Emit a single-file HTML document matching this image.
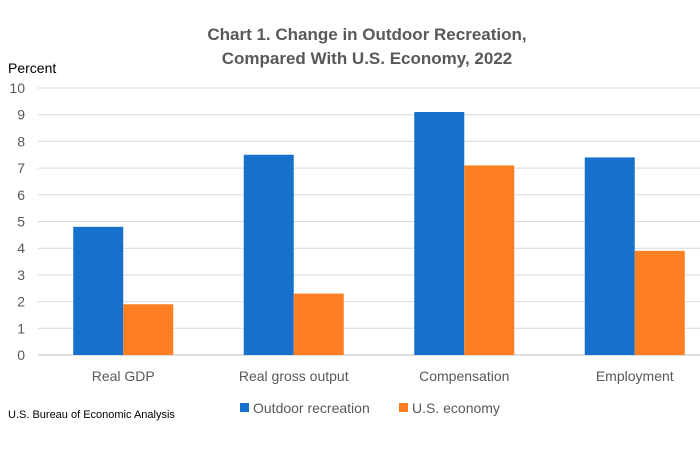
<!DOCTYPE html>
<html><head><meta charset="utf-8"><style>
body{margin:0;background:#fff;width:700px;height:467px;overflow:hidden;font-family:"Liberation Sans",sans-serif}
</style></head><body>
<svg id="chart" width="700" height="467" xmlns="http://www.w3.org/2000/svg">
<text x="367" y="40" text-anchor="middle" font-size="17" font-weight="bold" fill="#595959">Chart 1. Change in Outdoor Recreation,</text>
<text x="367" y="64" text-anchor="middle" font-size="17" font-weight="bold" fill="#595959">Compared With U.S. Economy, 2022</text>
<text x="8" y="73" font-size="14" fill="#000">Percent</text>
<g id="grid"></g><g id="bars"></g><g id="labels"></g>
<text x="8" y="418" font-size="11" fill="#000">U.S. Bureau of Economic Analysis</text>
<rect x="240" y="403" width="9" height="9" fill="#1670cc"/>
<text x="253" y="413" font-size="14" fill="#595959">Outdoor recreation</text>
<rect x="399" y="403" width="9" height="9" fill="#fd7f22"/>
<text x="412" y="413" font-size="14" fill="#595959">U.S. economy</text>
</svg>
<script>
const categories=["Real GDP","Real gross output","Compensation","Employment"];
const outdoorValues=[4.8,7.5,9.1,7.4];
const usValues=[1.9,2.3,7.1,3.9];
const yTicks=[0,1,2,3,4,5,6,7,8,9,10];
const NS="http://www.w3.org/2000/svg";
const x0=38,groupW=170.5,y0=355,yTop=88;
const yS=v=>y0-(v/10)*(y0-yTop);
const xC=i=>x0+groupW*(i+0.5);
function mk(t,a,p){const e=document.createElementNS(NS,t);for(const k in a)e.setAttribute(k,a[k]);p.appendChild(e);return e;}
const grid=document.getElementById('grid'),bars=document.getElementById('bars'),labels=document.getElementById('labels');
yTicks.forEach(v=>{
 const l=mk('line',{x1:x0,x2:700,y1:yS(v),y2:yS(v),stroke:v===0?'#bfbfbf':'#d9d9d9','stroke-width':1},grid);
 
 
 const t=mk('text',{x:25,y:yS(v)+5,'text-anchor':'end','font-size':14,fill:'#595959'},labels);
 t.textContent=v;
 
 
});
categories.forEach((c,i)=>{
 const cx=xC(i),bw=50;
 const b1=mk('rect',{x:cx-bw,y:yS(outdoorValues[i]),width:bw,height:y0-yS(outdoorValues[i]),fill:'#1670cc'},bars);
 
 
 const b2=mk('rect',{x:cx,y:yS(usValues[i]),width:bw,height:y0-yS(usValues[i]),fill:'#fd7f22'},bars);
 
 
 const t=mk('text',{x:cx,y:381,'text-anchor':'middle','font-size':14,fill:'#595959'},labels);
 t.textContent=c;
 
 
});
</script>
</body></html>
